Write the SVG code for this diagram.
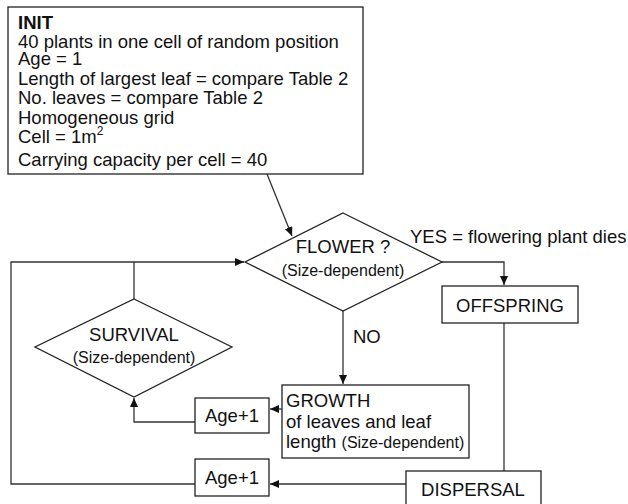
<svg xmlns="http://www.w3.org/2000/svg" width="628" height="504" viewBox="0 0 628 504">
<style>
.box{fill:#fff;stroke:#222;stroke-width:1.3}
.ln{fill:none;stroke:#333;stroke-width:1.3}
text{font-family:"Liberation Sans",Arial,sans-serif;font-size:18.5px;fill:#111}
.sm{font-size:16px}
.b{font-weight:bold}
.c{text-anchor:middle}
</style>
<defs>
<marker id="ah" markerWidth="10" markerHeight="8" refX="9" refY="4" orient="auto" markerUnits="userSpaceOnUse">
<path d="M0,0 L9,4 L0,8 Z" fill="#111"/>
</marker>
</defs>
<rect width="628" height="504" fill="#fff"/>
<g id="connectors">
<path class="ln" d="M267,174 L292,236" marker-end="url(#ah)"/>
<path class="ln" d="M442,262 H504 V285" marker-end="url(#ah)"/>
<path class="ln" d="M343,311 V384" marker-end="url(#ah)"/>
<path class="ln" d="M504,323 V471"/>
<path class="ln" d="M282,409 H270" marker-end="url(#ah)"/>
<path class="ln" d="M195,422 H134 V398" marker-end="url(#ah)"/>
<path class="ln" d="M134,299 V262"/>
<path class="ln" d="M195,484 H11 V262 H244" marker-end="url(#ah)"/>
<path class="ln" d="M406,484 H270" marker-end="url(#ah)"/>
</g>
<g id="init">
<rect class="box" x="8" y="7" width="355" height="167"/>
<text class="b" x="18" y="29">INIT</text>
<text x="18" y="47.5">40 plants in one cell of random position</text>
<text x="18" y="65">Age = 1</text>
<text x="18" y="84.5">Length of largest leaf = compare Table 2</text>
<text x="18" y="104">No. leaves = compare Table 2</text>
<text x="18" y="123.5">Homogeneous grid</text>
<text x="18" y="143">Cell = 1m<tspan font-size="12" dy="-8">2</tspan></text>
<text x="18" y="166">Carrying capacity per cell = 40</text>
</g>
<g id="flower">
<polygon class="box" points="343,213 442,262 343,311 245,262"/>
<text class="c" x="343" y="253">FLOWER ?</text>
<text class="c sm" x="343" y="276">(Size-dependent)</text>
</g>
<g id="yes-label">
<text x="410" y="243">YES = flowering plant dies</text>
</g>
<g id="no-label">
<text x="353" y="343">NO</text>
</g>
<g id="offspring">
<rect class="box" x="442" y="286" width="136" height="37"/>
<text class="c" x="510" y="312">OFFSPRING</text>
</g>
<g id="survival">
<polygon class="box" points="134,299 232,347 134,397 35,347"/>
<text class="c" x="134" y="341">SURVIVAL</text>
<text class="c sm" x="134" y="363">(Size-dependent)</text>
</g>
<g id="growth">
<rect class="box" x="282" y="385" width="187" height="73"/>
<text x="286" y="407">GROWTH</text>
<text x="286" y="428">of leaves and leaf</text>
<text x="286" y="448">length <tspan class="sm">(Size-dependent)</tspan></text>
</g>
<g id="age1-upper">
<rect class="box" x="195" y="398" width="74" height="35"/>
<text class="c" x="232" y="422">Age+1</text>
</g>
<g id="age1-lower">
<rect class="box" x="195" y="459" width="74" height="37"/>
<text class="c" x="232" y="484">Age+1</text>
</g>
<g id="dispersal">
<rect class="box" x="406" y="471" width="135" height="40"/>
<text class="c" x="473" y="496">DISPERSAL</text>
</g>
</svg>
